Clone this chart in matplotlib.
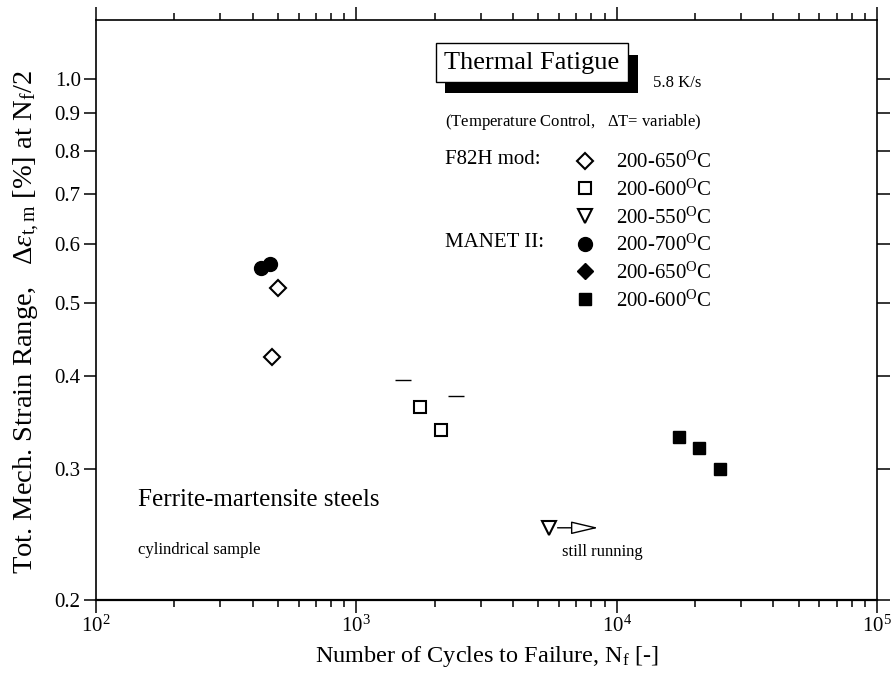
import matplotlib
matplotlib.use("Agg")
import matplotlib.pyplot as plt
import matplotlib.patheffects as pe
from matplotlib.lines import Line2D
from matplotlib.ticker import FixedLocator, NullLocator, FormatStrFormatter, LogFormatterMathtext

plt.rcParams['font.family'] = ['Liberation Serif', 'DejaVu Serif']
plt.rcParams['mathtext.fontset'] = 'custom'
plt.rcParams['mathtext.rm'] = 'Liberation Serif'
plt.rcParams['mathtext.it'] = 'Liberation Serif:italic'
plt.rcParams['mathtext.bf'] = 'Liberation Serif:bold'

# data (cycles to failure, strain range in %)
f82h_650_n = [502, 473]
f82h_650_eps = [0.525, 0.424]
f82h_600_n = [1756, 2109]
f82h_600_eps = [0.363, 0.338]
f82h_550_n = [5508]
f82h_550_eps = [0.250]
manet_700_n = [430, 466]
manet_700_eps = [0.557, 0.565]
manet_650_n = []
manet_650_eps = []
manet_600_n = [17400, 20720, 24950]
manet_600_eps = [0.331, 0.320, 0.300]
dash_n = [1514, 2415]
dash_eps = [0.395, 0.376]
running_end_n = 8500

legend_labels = ['200-650$^{\\rm O}$C', '200-600$^{\\rm O}$C', '200-550$^{\\rm O}$C',
                 '200-700$^{\\rm O}$C', '200-650$^{\\rm O}$C', '200-600$^{\\rm O}$C']
ytick_vals = [0.2, 0.3, 0.4, 0.5, 0.6, 0.7, 0.8, 0.9, 1.0]

fig = plt.figure(figsize=(8.94, 6.81), dpi=100)
ax = fig.add_axes([0.1074, 0.1189, 0.8736, 0.8517])

ax.set_xscale('log')
ax.set_yscale('log')
ax.set_xlim(1e2, 1e5)
ax.set_ylim(0.2, 1.2)

open_kw = dict(linestyle='none', markerfacecolor='white', markeredgecolor='black', markeredgewidth=1.5)
fill_kw = dict(linestyle='none', color='black')

h1, = ax.plot(f82h_650_n, f82h_650_eps, marker='D', markersize=8, **open_kw)
h2, = ax.plot(f82h_600_n, f82h_600_eps, marker='s', markersize=8.5, **open_kw)
h3, = ax.plot(f82h_550_n, f82h_550_eps, marker='v', markersize=9.5, **open_kw)
h4, = ax.plot(manet_700_n, manet_700_eps, marker='o', markersize=10, **fill_kw)
h5, = ax.plot(manet_650_n, manet_650_eps, marker='D', markersize=8, **fill_kw)
h6, = ax.plot(manet_600_n, manet_600_eps, marker='s', markersize=8, **fill_kw)
ax.plot(dash_n, dash_eps, marker='_', markersize=11, markeredgewidth=1.0, linestyle='none', color='black')

# still running arrow
ax.annotate('', xy=(running_end_n, f82h_550_eps[0]), xytext=(f82h_550_n[0], f82h_550_eps[0]),
            arrowprops=dict(arrowstyle='-|>,head_length=1.7,head_width=0.4', fc='white', ec='black',
                            lw=1.0, shrinkA=6, shrinkB=0))

# axes styling
for sp in ax.spines.values():
    sp.set_linewidth(1.2)
ax.spines['bottom'].set_linewidth(1.6)

ax.yaxis.set_major_locator(FixedLocator(ytick_vals))
ax.yaxis.set_minor_locator(NullLocator())
ax.yaxis.set_major_formatter(FormatStrFormatter('%.1f'))
ax.xaxis.set_major_formatter(LogFormatterMathtext())

ax.tick_params(which='both', direction='out', top=True, right=True, labelsize=15, width=1.1)
ax.tick_params(axis='x', which='major', length=9.5, pad=2)
ax.tick_params(axis='x', which='minor', length=5)
ax.tick_params(axis='y', which='major', length=9, pad=2)

ax.set_xlabel('Number of Cycles to Failure, N$_{\\rm f}$ [-]', fontsize=17.5, labelpad=5)
ax.set_ylabel('Tot. Mech. Strain Range,   $\\Delta\\varepsilon_{\\rm t,m}$ [%] at N$_{\\rm f}$/2',
              fontsize=20.5)
ax.yaxis.set_label_coords(-0.069, 0.479)

# title box with shadow
t = ax.text(0.558, 0.926, 'Thermal Fatigue', transform=ax.transAxes, fontsize=19,
            ha='center', va='center',
            bbox=dict(boxstyle='square,pad=0.32', fc='white', ec='black', lw=1.0))
t.get_bbox_patch().set_path_effects([pe.SimplePatchShadow(offset=(7, -8), shadow_rgbFace='black', alpha=1.0),
                                     pe.Normal()])

ax.text(0.713, 0.892, '5.8 K/s', transform=ax.transAxes, fontsize=12, va='center')
ax.text(0.447, 0.824, '(Temperature Control,   $\\Delta$T= variable)', transform=ax.transAxes,
        fontsize=12, va='center')
ax.text(0.447, 0.759, 'F82H mod:', transform=ax.transAxes, fontsize=15, va='center')
ax.text(0.447, 0.617, 'MANET II:', transform=ax.transAxes, fontsize=15, va='center')
ax.text(0.0538, 0.172, 'Ferrite-martensite steels', transform=ax.transAxes, fontsize=18, va='center')
ax.text(0.0538, 0.086, 'cylindrical sample', transform=ax.transAxes, fontsize=12, va='center')
ax.text(0.597, 0.083, 'still running', transform=ax.transAxes, fontsize=12, va='center')

leg_handles = [h1, h2, h3, h4,
               Line2D([], [], marker='D', markersize=8, **fill_kw), h6]
leg = ax.legend(leg_handles, legend_labels, loc='upper left', bbox_to_anchor=(0.6427, 0.777),
                bbox_transform=fig.transFigure, frameon=False, fontsize=15, handlelength=1.0,
                handletextpad=1.0, labelspacing=0.31, borderpad=0, borderaxespad=0, numpoints=1)

fig.savefig('out.png', dpi=100)
